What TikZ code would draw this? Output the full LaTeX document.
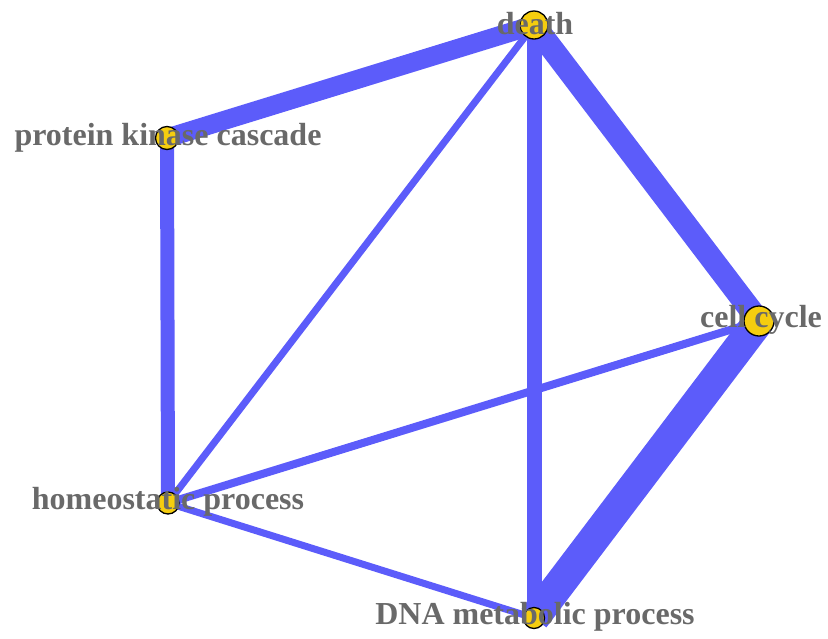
\documentclass[tikz,border=0pt]{standalone}
\usepackage{fontspec}
\setmainfont{Liberation Serif}
\begin{document}
\begin{tikzpicture}[x=1pt,y=-1pt,
  edge/.style={draw={rgb,255:red,92;green,92;blue,250}},
  vert/.style={circle,draw=black,line width=1.3pt,fill={rgb,255:red,245;green,205;blue,15},inner sep=0pt},
  lab/.style={text={rgb,255:red,105;green,105;blue,105},font=\fontsize{32}{38}\selectfont\bfseries,text height=22pt,text depth=7pt,inner sep=0pt}]
\useasboundingbox (0,0) rectangle (828,638);
\coordinate (death) at (534,25);
\coordinate (pkc) at (167,138);
\coordinate (cc) at (759,321);
\coordinate (ho) at (168,503);
\coordinate (dna) at (534,618);
\path[edge,line width=19pt] (death) -- (pkc);
\path[edge,line width=14pt] (pkc) -- (ho);
\path[edge,line width=7pt] (death) -- (ho);
\path[edge,line width=15pt] (death) -- (dna);
\path[edge,line width=23pt] (death) -- (cc);
\path[edge,line width=31pt] (cc) -- (dna);
\path[edge,line width=8pt] (cc) -- (ho);
\path[edge,line width=7pt] (ho) -- (dna);
\node[vert,minimum size=28pt] (vdeath) at (death) {};
\node[vert,minimum size=23pt] (vpkc) at (pkc) {};
\node[vert,minimum size=30pt] (vcc) at (cc) {};
\node[vert,minimum size=22pt] (vho) at (ho) {};
\node[vert,minimum size=21pt] (vdna) at (dna) {};
\node[lab] (tdeath) at (535,27) {death};
\node[lab] (tpkc) at (168,138) {protein kinase cascade};
\node[lab] (tcc) at (761,320) {cell cycle};
\node[lab] (tho) at (168,502) {homeostatic process};
\node[lab] (tdna) at (535,617) {DNA metabolic process};
\end{tikzpicture}
\end{document}
